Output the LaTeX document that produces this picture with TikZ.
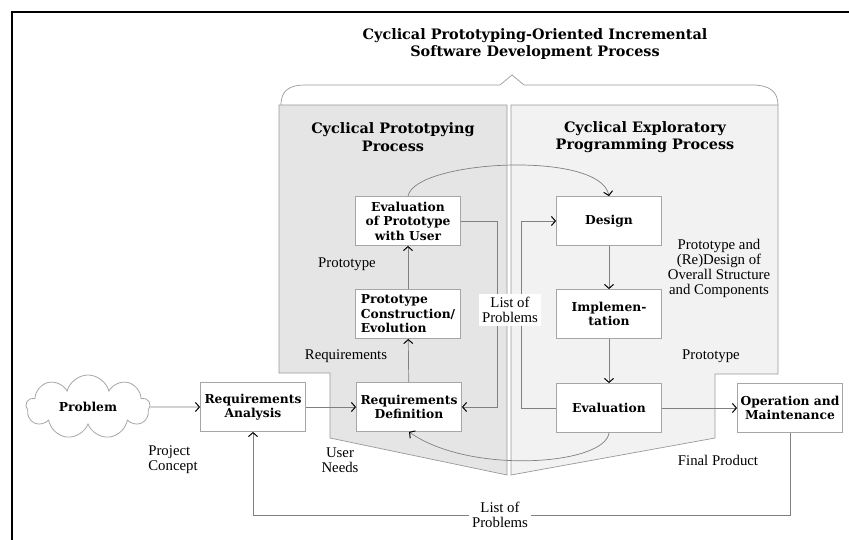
\documentclass[tikz,border=0pt]{standalone}
\usepackage{fontspec}
\setmainfont{Liberation Serif}
\newfontfamily\boxfont{DejaVu Serif}
\usetikzlibrary{arrows.meta, shapes.symbols}
\tikzset{
    proc/.style={rectangle, draw=gray!70, line width=0.8pt, fill=white,
        minimum width=105pt, minimum height=49pt, align=center, inner sep=2pt,
        font=\boxfont\bfseries\fontsize{12.3}{14.5}\selectfont},
    cloudbox/.style={cloud, cloud puffs=9, cloud ignores aspect, draw=gray!70, line width=0.8pt,
        fill=white, minimum width=124pt, minimum height=64pt,
        font=\boxfont\bfseries\fontsize{12.3}{14.5}\selectfont},
    arr/.style={-{Straight Barb[length=4pt, width=9pt, line width=1pt, color=black]}, line width=0.7pt, draw=gray},
    lbl/.style={font=\fontsize{14.8}{15}\selectfont, align=center, inner sep=1pt},
    ptitle/.style={font=\boxfont\bfseries\fontsize{14.4}{17.5}\selectfont, align=center},
    panel/.style={draw=gray!80, line width=0.7pt}
}

\begin{document}
\begin{tikzpicture}[x=1pt, y=-1pt]
\useasboundingbox (0,0) rectangle (849,540);

%% frame
\draw[line width=2.5pt] (12,540) -- (12,12) -- (849,12);

%% panels and brace
\draw[panel, fill=gray!20] (279,105) -- (507,105) -- (507,475) -- (330,438)
    -- (330,373) -- (279,373) -- cycle;
\draw[panel, fill=gray!10] (511,105) -- (778,105) -- (778,374) -- (715,374)
    -- (715,438) -- (511,475) -- cycle;
\draw[panel] (281,105) .. controls (281,90) and (290,85) .. (305,85) -- (500,85)
    -- (512,75) -- (524,85) -- (752,85) .. controls (770,85) and (778,92) .. (778,105);

\node[ptitle] (title) at (535,44) {Cyclical Prototyping-Oriented Incremental\\Software Development Process};
\node[ptitle] (lefttitle)  at (393,137) {Cyclical Prototpying\\Process};
\node[ptitle] (righttitle) at (645,137) {Cyclical Exploratory\\Programming Process};

%% boxes
\node[cloudbox] (problem) at (88,407) {Problem};
\node[proc] (reqana)     at (253,407) {Requirements\\Analysis};
\node[proc] (reqdef)     at (409,407) {Requirements\\Definition};
\node[proc, align=left] (protocon) at (408,314) {Prototype\\Construction/\\Evolution};
\node[proc] (evalproto)  at (408,221) {Evaluation\\of Prototype\\with User};
\node[proc] (design)     at (609,221) {Design};
\node[proc] (impl)       at (609,314) {Implemen-\\tation};
\node[proc] (evaluation) at (609,408) {Evaluation};
\node[proc] (opmaint)    at (790,408) {Operation and\\Maintenance};

%% labels
\node[lbl, align=left] (concept) at (173,460) {Project\\Concept};
\node[lbl] (needs)      at (340,460) {User\\Needs};
\node[lbl] (reqlbl)     at (346,356) {Requirements};
\node[lbl] (protolbl)   at (347,264) {Prototype};
\node[lbl] (redesign)   at (719,268) {Prototype and\\(Re)Design of\\Overall Structure\\and Components};
\node[lbl] (protoright) at (711,356) {Prototype};
\node[lbl] (final)      at (718,460) {Final Product};

%% prototyping cycle
\draw[arr] (problem.east) -- (reqana.west);
\draw[arr] (reqana.east) -- (reqdef.west);
\draw[arr] (reqdef) -- (protocon);
\draw[arr] (protocon) -- (evalproto);
\draw[arr] (evalproto.east) -- ([xshift=36pt]evalproto.east) |- (reqdef.east);

%% exploratory cycle
\draw[arr] (evalproto.north) .. controls (415,160) and (600,150) .. (design.north);
\draw[arr] (design) -- (impl);
\draw[arr] (impl) -- (evaluation);
\draw[arr] (evaluation.west) -- ([xshift=-35pt]evaluation.west) |- (design.west);
\draw[arr] (evaluation.south) .. controls (605,465) and (470,475) .. (reqdef.south);
\draw[arr] (evaluation) -- (opmaint);

\node[lbl, fill=white, inner sep=3pt] (problist) at (510,310) {List of\\Problems};

%% feedback from operation
\draw[arr] (opmaint.south) |- ([yshift=-83pt]reqana.south)
    node[lbl, fill=white, inner sep=3pt, pos=0.77] (problist2) {List of\\Problems}
    -- (reqana.south);

\end{tikzpicture}
\end{document}
